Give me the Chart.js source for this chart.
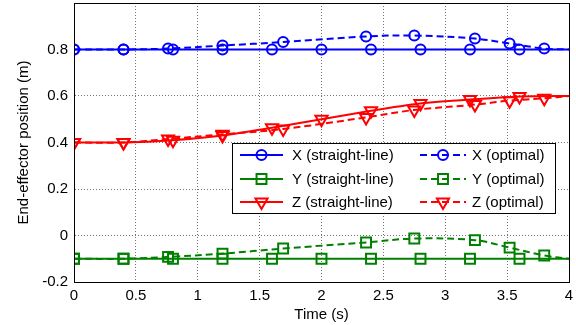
<!DOCTYPE html>
<html>
<head>
<meta charset="utf-8">
<script src="https://cdn.jsdelivr.net/npm/chart.js@4.4.0/dist/chart.umd.min.js"></script>
<style>
  html, body { margin: 0; padding: 0; background: #fff; }
  #wrap { width: 576px; height: 325px; }
</style>
</head>
<body>
<div id="wrap"><canvas id="posChart" width="576" height="325"></canvas></div>
<script>
// time samples (s)
const tStraight = [0, 0.4, 0.8, 1.2, 1.6, 2.0, 2.4, 2.8, 3.2, 3.6, 4.0];
const tOptimal = [0, 0.4, 0.76, 1.2, 1.69, 2.36, 2.75, 3.24, 3.52, 3.8, 4.0];

// end-effector position (m)
const xStraight = [0.8, 0.8, 0.8, 0.8, 0.8, 0.8, 0.8, 0.8, 0.8, 0.8, 0.8];
const yStraight = [-0.1, -0.1, -0.1, -0.1, -0.1, -0.1, -0.1, -0.1, -0.1, -0.1, -0.1];
const zStraight = [0.4, 0.4, 0.41, 0.43, 0.463, 0.5, 0.537, 0.568, 0.585, 0.598, 0.6];

const xOptimal = [0.8, 0.8, 0.804, 0.817, 0.832, 0.856, 0.86, 0.847, 0.826, 0.804, 0.8];
const yOptimal = [-0.1, -0.1, -0.092, -0.078, -0.056, -0.03, -0.013, -0.02, -0.052, -0.086, -0.1];
const zOptimal = [0.4, 0.4, 0.415, 0.435, 0.458, 0.508, 0.54, 0.563, 0.58, 0.59, 0.6];

const xTicks = [0, 0.5, 1, 1.5, 2, 2.5, 3, 3.5, 4];
const yTicks = [-0.2, 0, 0.2, 0.4, 0.6, 0.8, 1.0];

const FONT = 'Arial, "Liberation Sans", sans-serif';

function pts(ts, vs) {
  return ts.map((t, i) => ({ x: t, y: vs[i] }));
}
// no marker on the last sample
function radii(n, r) {
  return Array.from({ length: n }, (_, i) => (i === n - 1 ? 0 : r));
}

function series(label, ts, vs, color, style, dashed) {
  const r = style === 'circle' ? 5 : 7;
  return {
    label: label,
    data: pts(ts, vs),
    borderColor: color,
    backgroundColor: 'rgba(0,0,0,0)',
    borderWidth: 2,
    borderDash: dashed ? [7, 4] : [],
    tension: dashed ? 0.35 : 0.15,
    pointStyle: style,
    pointRotation: style === 'triangle' ? 180 : 0,
    pointRadius: radii(ts.length, r),
    pointBorderWidth: 2,
    pointBorderColor: color,
    pointBackgroundColor: 'rgba(0,0,0,0)',
  };
}

const datasets = [
  series('X (straight-line)', tStraight, xStraight, '#0000ff', 'circle', false),
  series('X (optimal)', tOptimal, xOptimal, '#0000ff', 'circle', true),
  series('Y (straight-line)', tStraight, yStraight, '#008000', 'rect', false),
  series('Y (optimal)', tOptimal, yOptimal, '#008000', 'rect', true),
  series('Z (straight-line)', tStraight, zStraight, '#ff0000', 'triangle', false),
  series('Z (optimal)', tOptimal, zOptimal, '#ff0000', 'triangle', true),
];

// box around plot + matlab style legend inside the axes
const boxLegend = {
  id: 'boxLegend',
  afterDraw(chart) {
    const ctx = chart.ctx;
    const a = chart.chartArea;
    ctx.save();
    ctx.strokeStyle = '#000';
    ctx.lineWidth = 1;
    ctx.setLineDash([]);
    ctx.strokeRect(Math.round(a.left) + 0.5, Math.round(a.top) + 0.5,
      Math.round(a.right - a.left), Math.round(a.bottom - a.top));

    // legend box
    const lx = 232, ly = 143, lw = 323, lh = 70;
    ctx.fillStyle = '#fff';
    ctx.fillRect(lx, ly, lw, lh);
    ctx.strokeRect(lx + 0.5, ly + 0.5, lw, lh);

    const rowY = [155, 179, 202];
    const cols = [
      { x0: 240, x1: 283, tx: 292 },
      { x0: 420, x1: 466, tx: 472 },
    ];
    ctx.font = '15px ' + FONT;
    ctx.textBaseline = 'middle';
    ctx.textAlign = 'left';
    datasets.forEach((ds, i) => {
      const row = Math.floor(i / 2), c = cols[i % 2];
      const y = rowY[row];
      ctx.strokeStyle = ds.borderColor;
      ctx.lineWidth = 2;
      ctx.setLineDash(ds.borderDash);
      ctx.beginPath();
      ctx.moveTo(c.x0, y);
      ctx.lineTo(c.x1, y);
      ctx.stroke();
      ctx.setLineDash([]);
      ctx.fillStyle = 'rgba(0,0,0,0)';
      Chart.helpers.drawPoint(ctx, {
        pointStyle: ds.pointStyle,
        rotation: ds.pointRotation,
        radius: ds.pointRadius[0],
        borderWidth: 2,
      }, (c.x0 + c.x1) / 2, y);
      ctx.fillStyle = '#000';
      ctx.fillText(ds.label, c.tx, y + 1);
    });
    ctx.restore();
  }
};

new Chart(document.getElementById('posChart').getContext('2d'), {
  type: 'line',
  data: { datasets: datasets },
  options: {
    responsive: false,
    animation: false,
    layout: { autoPadding: false, padding: { left: 0, top: 3, right: 7, bottom: 0 } },
    plugins: {
      legend: { display: false },
      tooltip: { enabled: false },
    },
    scales: {
      x: {
        type: 'linear',
        min: 0,
        max: 4,
        afterFit(s) { s.height = 43; s.paddingLeft = 0; s.paddingRight = 0; },
        afterBuildTicks(s) { s.ticks = xTicks.map(v => ({ value: v })); },
        grid: { color: 'rgba(0,0,0,0.55)', drawTicks: false },
        border: { display: true, color: '#000', dash: [1, 2] },
        ticks: {
          color: '#000',
          padding: 5,
          maxRotation: 0,
          font: { family: FONT, size: 15 },
          callback: v => String(v),
        },
        title: {
          display: true,
          text: 'Time (s)',
          color: '#000',
          font: { family: FONT, size: 15 },
          padding: { top: 0, bottom: 1 },
        },
      },
      y: {
        type: 'linear',
        min: -0.2,
        max: 1.0,
        afterFit(s) { s.width = 74; s.paddingTop = 0; s.paddingBottom = 0; },
        afterBuildTicks(s) { s.ticks = yTicks.map(v => ({ value: v })); },
        grid: { color: 'rgba(0,0,0,0.55)', drawTicks: false },
        border: { display: true, color: '#000', dash: [1, 2] },
        ticks: {
          color: '#000',
          padding: 6,
          font: { family: FONT, size: 15 },
          callback: v => (v >= 0.99 ? '' : String(Math.round(v * 10) / 10)),
        },
        title: {
          display: true,
          text: 'End-effector position (m)',
          color: '#000',
          font: { family: FONT, size: 15 },
          padding: { top: 15, bottom: 0 },
        },
      },
    },
  },
  plugins: [boxLegend],
});
</script>
</body>
</html>
